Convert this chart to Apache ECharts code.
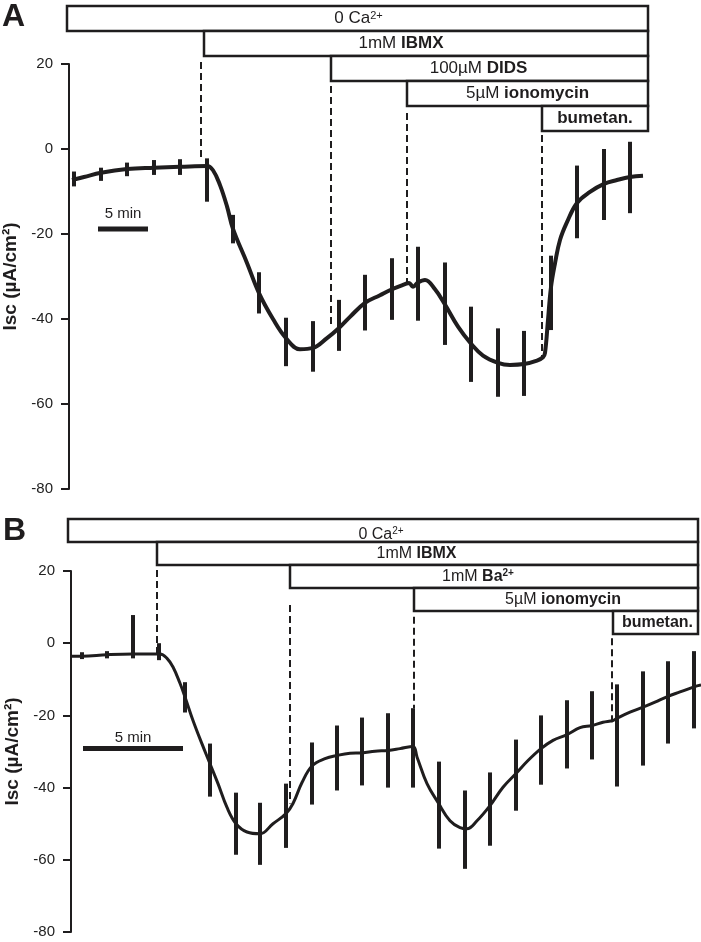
<!DOCTYPE html>
<html><head><meta charset="utf-8">
<script src="https://cdn.jsdelivr.net/npm/echarts@6/dist/echarts.min.js"></script>
<style>html,body{margin:0;padding:0;background:#fff}#c{width:701px;height:942px}</style>
</head><body><div id="c"></div>
<script>
// ================= DATA =================
const yLabel = 'Isc (µA/cm²)';
const scaleText = '5 min';

// ---- Panel A (time in min, Isc in µA/cm²) ----
const aTime = [0.3,1.5,3.2,5.8,8.5,11.1,13.8,14.4,15.1,15.8,16.4,17.8,19.0,20.4,21.7,23.1,24.4,25.8,27.0,28.1,29.6,31.1,32.3,33.6,34.0,34.4,34.9,35.6,36.6,37.6,38.9,40.2,41.4,42.9,44.1,45.5,46.8,47.4,47.6,47.9,48.2,48.6,49.1,49.8,50.8,52.1,53.5,54.8,56.1,57.4];
const aIsc  = [-7.3,-6.6,-5.6,-4.7,-4.4,-4.2,-4.0,-5.0,-8.5,-13.5,-18.8,-26.8,-33.9,-40.0,-44.5,-47.1,-46.8,-44.5,-42.1,-39.5,-36.2,-34.4,-33.0,-31.8,-31.5,-32.4,-31.4,-30.8,-33.0,-36.6,-41.8,-45.8,-48.6,-50.3,-50.8,-50.6,-49.8,-49.0,-48.0,-40.2,-32.5,-26.9,-21.4,-17.2,-12.7,-10.1,-8.2,-7.3,-6.6,-6.3];
const aErrTime = [0.5,3.2,5.8,8.5,11.1,13.8,16.4,19.0,21.7,24.4,27.0,29.6,32.3,34.9,37.6,40.2,42.9,45.5,48.2,50.8,53.5,56.1];
const aErrLow  = [-8.8,-7.5,-6.4,-6.1,-6.1,-12.4,-22.2,-38.7,-51.1,-52.4,-47.5,-42.7,-40.2,-40.4,-46.1,-54.8,-58.3,-58.1,-42.6,-21.0,-16.7,-15.1];
const aErrHigh = [-5.3,-4.4,-3.2,-2.6,-2.4,-2.2,-15.5,-29.0,-39.7,-40.5,-35.5,-29.6,-25.7,-23.0,-26.7,-37.1,-42.2,-42.8,-25.1,-3.9,0.0,1.7];
const aBoxLabels = ['{r|0 Ca}{s|2+}', '{r|1mM }{b|IBMX}', '{r|100µM }{b|DIDS}', '{r|5µM }{b|ionomycin}', '{b|bumetan.}'];
const aBoxStart = [-0.2, 13.5, 26.2, 33.8, 47.3];
const aBoxEnd = 57.9;
const aDashTime   = [13.2, 26.2, 33.8, 47.3];
const aDashTop    = [20.5, 14.8, 8.5, 3.3];
const aDashBottom = [-1.9, -42.1, -31.5, -48.9];
const aScale = [2.9, 7.9, -18.8];   // start, end (5 min), level

// ---- Panel B ----
const bTime = [0,0.55,1.8,3.1,4.45,4.8,5.1,5.45,5.7,6.1,6.55,6.95,7.35,7.8,8.25,8.8,9.45,10.1,10.75,11.1,11.55,12.05,12.7,13.3,13.95,14.55,15.2,15.85,16.45,17.1,17.3,17.8,18.35,18.95,19.45,19.8,20.3,20.95,21.6,22.25,22.85,23.5,24.1,24.8,25.45,26.05,26.6,27.1,27.3,27.95,28.6,29.2,29.85,30.45,31.15,31.5];
const bIsc  = [-3.6,-3.6,-3.2,-3.0,-3.0,-4.2,-6.6,-11.1,-14.9,-21.4,-27.9,-33.4,-38.9,-45.5,-50.0,-52.3,-52.8,-50.0,-47.2,-44.4,-38.6,-34.0,-32.0,-31.1,-30.5,-30.4,-29.9,-29.7,-29.2,-28.6,-31.5,-38.9,-44.1,-49.2,-51.1,-51.4,-49.2,-45.0,-39.9,-36.1,-32.5,-29.2,-26.9,-25.3,-23.4,-22.8,-21.9,-21.4,-20.8,-19.1,-17.7,-16.3,-14.7,-13.5,-12.1,-11.6];
const bErrTime = [0.55,1.8,3.1,4.4,5.7,6.95,8.25,9.45,10.75,12.05,13.3,14.55,15.85,17.1,18.4,19.7,20.95,22.25,23.5,24.8,26.05,27.3,28.6,29.85,31.15];
const bErrLow  = [-4.4,-4.2,-4.2,-4.7,-19.2,-42.5,-58.6,-61.4,-56.7,-44.7,-40.8,-39.4,-40.0,-40.0,-56.9,-62.5,-56.1,-46.4,-39.2,-34.7,-32.2,-39.7,-33.9,-27.8,-23.6];
const bErrHigh = [-2.5,-2.2,7.8,0.0,-10.8,-27.8,-41.4,-44.2,-38.9,-27.5,-22.8,-20.6,-19.4,-18.0,-32.8,-40.8,-35.8,-26.7,-20.0,-15.8,-13.3,-11.4,-7.8,-5.0,-2.2];
const bBoxLabels = ['{r|0 Ca}{s|2+}', '{r|1mM }{b|IBMX}', '{r|1mM }{b|Ba}{sb|2+}', '{r|5µM }{b|ionomycin}', '{b|bumetan.}'];
const bBoxStart = [-0.15, 4.3, 10.95, 17.15, 27.1];
const bBoxEnd = 31.35;
const bDashTime   = [4.3, 10.95, 17.15, 27.05];
const bDashTop    = [20.3, 10.6, 7.3, 1.4];
const bDashBottom = [-3.3, -44.4, -18.0, -21.9];
const bScale = [0.6, 5.6, -29.2];

// ================= STYLE =================
const FONT = '"Liberation Sans", Arial, Helvetica, sans-serif';
const INK = '#1f1d1e';
const aLabelShift = [[1,0],[-25,0],[-11,0],[0,0],[0,0]];
const bLabelShift = [[-2,4],[-11,0],[-16,0],[7,0],[2,0]];

function boxSeries(xi, yi, starts, end, labels, shifts, fs) {
  const rich = {
    r: {fontSize: fs, fontFamily: FONT, fill: INK},
    b: {fontSize: fs, fontFamily: FONT, fontWeight: 'bold', fill: INK},
    s: {fontSize: Math.round(fs*0.62), fontFamily: FONT, fill: INK, verticalAlign: 'top'},
    sb: {fontSize: Math.round(fs*0.62), fontFamily: FONT, fontWeight: 'bold', fill: INK, verticalAlign: 'top'}
  };
  return {
    type: 'custom', xAxisIndex: xi, yAxisIndex: yi, z: 5, clip: false, silent: true,
    data: starts.map((s, i) => [s, i, end]),
    encode: {x: [0, 2], y: 1},
    renderItem: (params, api) => {
      const i = params.dataIndex;
      const a = api.coord([api.value(0), i]);
      const b = api.coord([api.value(2), i]);
      const h = api.size([0, 1])[1];
      return {type: 'group', children: [
        {type: 'rect', shape: {x: a[0], y: a[1] - h/2, width: b[0] - a[0], height: h},
         style: {fill: '#fff', stroke: INK, lineWidth: 2.5}},
        {type: 'text', style: {text: labels[i], x: (a[0] + b[0]) / 2 + shifts[i][0], y: a[1] + shifts[i][1],
          align: 'center', verticalAlign: 'middle', fontSize: fs, fontFamily: FONT, fill: INK, rich: rich}}
      ]};
    }
  };
}
function errSeries(xi, yi, t, lo, hi, w) {
  return {
    type: 'custom', xAxisIndex: xi, yAxisIndex: yi, z: 4, clip: false, silent: true,
    data: t.map((v, i) => [v, lo[i], hi[i]]),
    encode: {x: 0, y: [1, 2]},
    renderItem: (p, api) => {
      const a = api.coord([api.value(0), api.value(1)]);
      const b = api.coord([api.value(0), api.value(2)]);
      return {type: 'line', shape: {x1: a[0], y1: a[1], x2: b[0], y2: b[1]}, style: {stroke: INK, lineWidth: w}};
    }
  };
}
function dashSeries(xi, yi, t, top, bot) {
  return {
    type: 'custom', xAxisIndex: xi, yAxisIndex: yi, z: 3, clip: false, silent: true,
    data: t.map((v, i) => [v, top[i], bot[i]]),
    encode: {x: 0, y: [1, 2]},
    renderItem: (p, api) => {
      const a = api.coord([api.value(0), api.value(1)]);
      const b = api.coord([api.value(0), api.value(2)]);
      return {type: 'line', shape: {x1: a[0], y1: a[1], x2: b[0], y2: b[1]},
        style: {stroke: INK, lineWidth: 2, lineDash: [7, 4]}};
    }
  };
}
function scaleSeries(xi, yi, s, gap) {
  return {
    type: 'custom', xAxisIndex: xi, yAxisIndex: yi, z: 4, clip: false, silent: true,
    data: [s],
    encode: {x: [0, 1], y: 2},
    renderItem: (p, api) => {
      const a = api.coord([api.value(0), api.value(2)]);
      const b = api.coord([api.value(1), api.value(2)]);
      return {type: 'group', children: [
        {type: 'line', shape: {x1: a[0], y1: a[1], x2: b[0], y2: b[1]}, style: {stroke: INK, lineWidth: 5}},
        {type: 'text', style: {text: scaleText, x: (a[0] + b[0]) / 2, y: a[1] - gap, align: 'center',
          verticalAlign: 'middle', fontSize: 15, fontFamily: FONT, fill: INK}}
      ]};
    }
  };
}
function mainY(gi, gap) {
  return {
    gridIndex: gi, type: 'value', min: -80, max: 20, interval: 20,
    axisLine: {show: true, lineStyle: {color: INK, width: 2}},
    axisTick: {show: true, length: 8, lineStyle: {color: INK, width: 2}},
    axisLabel: {fontSize: 15, color: '#222', margin: 16, fontFamily: FONT},
    splitLine: {show: false},
    name: yLabel, nameLocation: 'middle', nameGap: gap,
    nameTextStyle: {fontSize: 19, fontWeight: 'bold', fontFamily: FONT, color: INK}
  };
}
const hiddenX = (gi, max) => ({gridIndex: gi, type: 'value', min: 0, max: max, show: false});
const boxY = (gi) => ({gridIndex: gi, type: 'category', data: ['0','1','2','3','4'], inverse: true, show: false, boundaryGap: true});

const chart = echarts.init(document.getElementById('c'), null, {renderer: 'canvas'});
chart.setOption({
  animation: false,
  backgroundColor: '#fff',
  textStyle: {fontFamily: FONT},
  grid: [
    {left: 69, top: 64, width: 580, height: 425, outerBoundsMode: 'none'},
    {left: 69, top: 6, width: 580, height: 125, outerBoundsMode: 'none'},
    {left: 71, top: 571, width: 630, height: 361, outerBoundsMode: 'none'},
    {left: 71, top: 519, width: 630, height: 115, outerBoundsMode: 'none'}
  ],
  xAxis: [hiddenX(0, 58), hiddenX(1, 58), hiddenX(2, 31.5), hiddenX(3, 31.5)],
  yAxis: [mainY(0, 46), boxY(1), mainY(2, 48), boxY(3)],
  graphic: [
    {type: 'text', left: 2, top: 1, style: {text: 'A', font: 'bold 32px ' + FONT, fill: INK}},
    {type: 'text', left: 3, top: 515, style: {text: 'B', font: 'bold 32px ' + FONT, fill: INK}}
  ],
  series: [
    dashSeries(0, 0, aDashTime, aDashTop, aDashBottom),
    boxSeries(1, 1, aBoxStart, aBoxEnd, aBoxLabels, aLabelShift, 17),
    {type: 'line', xAxisIndex: 0, yAxisIndex: 0, data: aTime.map((t, i) => [t, aIsc[i]]),
     showSymbol: false, smooth: 0.4, z: 3, silent: true,
     lineStyle: {color: INK, width: 4, join: 'round'}},
    errSeries(0, 0, aErrTime, aErrLow, aErrHigh, 4),
    scaleSeries(0, 0, aScale, 15),

    dashSeries(2, 2, bDashTime, bDashTop, bDashBottom),
    boxSeries(3, 3, bBoxStart, bBoxEnd, bBoxLabels, bLabelShift, 16),
    {type: 'line', xAxisIndex: 2, yAxisIndex: 2, data: bTime.map((t, i) => [t, bIsc[i]]),
     showSymbol: false, smooth: 0.4, z: 3, silent: true, clip: false,
     lineStyle: {color: INK, width: 3, join: 'round'}},
    errSeries(2, 2, bErrTime, bErrLow, bErrHigh, 4),
    scaleSeries(2, 2, bScale, 11)
  ]
});
</script></body></html>
